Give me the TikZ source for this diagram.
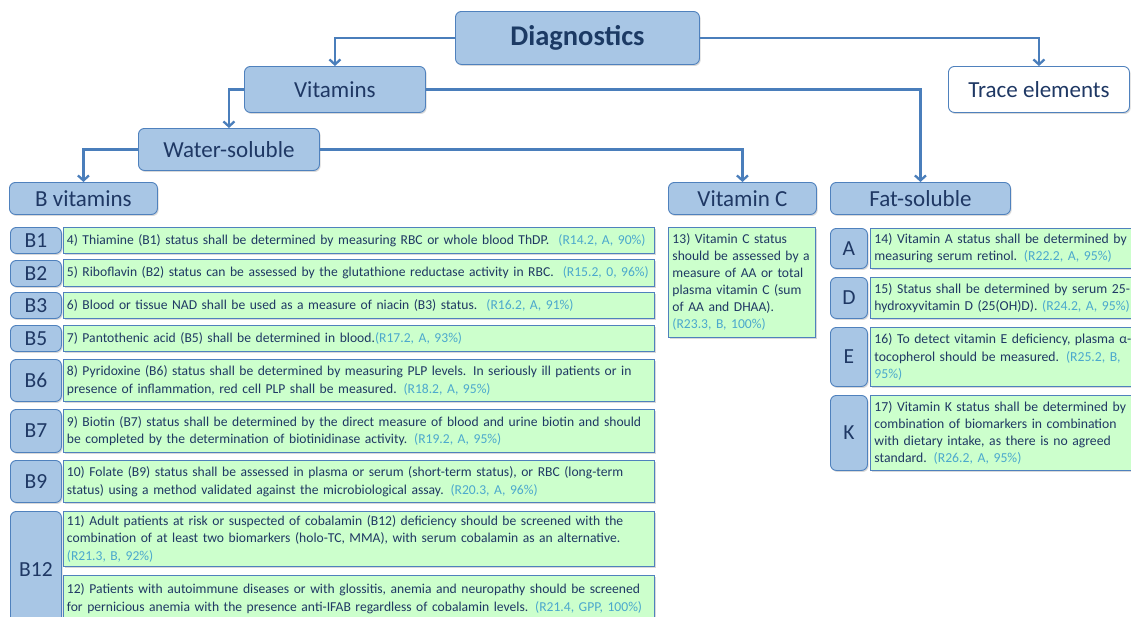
\documentclass[tikz,border=0pt]{standalone}
\usepackage{fontspec}
\setmainfont{Carlito}
\usetikzlibrary{arrows.meta,shadows}
\definecolor{hfill}{RGB}{168,198,229}
\definecolor{bord}{RGB}{79,129,189}
\definecolor{navy}{RGB}{31,56,100}
\definecolor{dnavy}{RGB}{28,58,100}
\definecolor{gfill}{RGB}{204,255,204}
\definecolor{refc}{RGB}{75,168,204}
\definecolor{arrc}{RGB}{74,126,187}
\newcommand\rtag[1]{\textcolor{refc}{#1}}
\tikzset{
  boxshadow/.style={drop shadow={shadow xshift=1.2pt,shadow yshift=-1.5pt,opacity=0.25,fill=black!60}},
  hdr/.style={draw=bord, fill=hfill, rounded corners=6pt, line width=0.9pt, text=navy,
    font=\fontsize{23}{26}\selectfont, inner sep=0pt, anchor=north west, boxshadow},
  lbl/.style={hdr, font=\fontsize{21.5}{24}\selectfont},
  txt/.style={draw=bord, fill=gfill, line width=0.9pt, text=navy,
    font=\fontsize{13.6}{17.5}\selectfont, align=left, anchor=north west,
    inner xsep=3.5pt, inner ysep=0pt, boxshadow},
  rtxt/.style={txt, font=\fontsize{13.6}{17}\selectfont, inner xsep=4pt},
  ftxt/.style={txt, font=\fontsize{13.7}{17.3}\selectfont, inner xsep=4pt},
  conn/.style={draw=arrc, line width=2.3pt, -{Straight Barb[length=5pt,width=11pt]}}
}
\begin{document}
\begin{tikzpicture}[x=1pt,y=-1pt]
\useasboundingbox (0,0) rectangle (1131,616);
\clip (0,0) rectangle (1131,616);
% headers
\node[hdr, minimum width=244, minimum height=53, font=\fontsize{28.5}{32}\selectfont\bfseries, text=dnavy] (diag) at (455,11) {Diagnostics};
\node[hdr, minimum width=181, minimum height=46] (vit) at (244,66) {Vitamins};
\node[hdr, fill=white, minimum width=181, minimum height=46] (trace) at (948,66) {Trace elements};
\node[hdr, minimum width=181, minimum height=42] (ws) at (138,128) {Water-soluble};
\node[hdr, minimum width=148, minimum height=32] (bvit) at (9,182) {B vitamins};
\node[hdr, minimum width=148, minimum height=32] (vitc) at (668,182) {Vitamin C};
\node[hdr, minimum width=180, minimum height=32] (fat) at (830,182) {Fat-soluble};
% connectors
\draw[conn] (diag.west) -| (vit.north);
\draw[conn] (diag.east) -| (trace.north);
\draw[conn] (vit.west) -| (ws.north);
\draw[conn] (vit.east) -| (fat.north);
\draw[conn] (ws.west) -| (bvit.north);
\draw[conn] (ws.east) -| (vitc.north);
% B vitamin labels
\node[lbl, minimum width=51, minimum height=26] (lb1) at (10,227) {B1};
\node[lbl, minimum width=51, minimum height=26] (lb2) at (10,260) {B2};
\node[lbl, minimum width=51, minimum height=26] (lb3) at (10,292) {B3};
\node[lbl, minimum width=51, minimum height=26] (lb5) at (10,325) {B5};
\node[lbl, minimum width=51, minimum height=42] (lb6) at (10,359) {B6};
\node[lbl, minimum width=51, minimum height=43] (lb7) at (10,409) {B7};
\node[lbl, minimum width=51, minimum height=42] (lb9) at (10,460) {B9};
\node[lbl, minimum width=51, minimum height=116] (lb12) at (10,511) {B12};
% B vitamin texts
\node[txt, text width=584, minimum height=26] (t4) at (63,227) {4) Thiamine (B1) status shall be determined by measuring RBC or whole blood ThDP.\ \ \rtag{(R14.2, A, 90\%)}};
\node[txt, text width=584, minimum height=27] (t5) at (63,259) {5) Riboflavin (B2) status can be assessed by the glutathione reductase activity in RBC.\ \ \rtag{(R15.2, 0, 96\%)}};
\node[txt, text width=584, minimum height=26] (t6) at (63,292) {6) Blood or tissue NAD shall be used as a measure of niacin (B3) status.\ \ \rtag{(R16.2, A, 91\%)}};
\node[txt, text width=584, minimum height=26] (t7) at (63,325) {7) Pantothenic acid (B5) shall be determined in blood.\rtag{(R17.2, A, 93\%)}};
\node[txt, text width=584, minimum height=42] (t8) at (63,359) {8) Pyridoxine (B6) status shall be determined by measuring PLP levels. In seriously ill patients or in\\presence of inflammation, red cell PLP shall be measured. \rtag{(R18.2, A, 95\%)}};
\node[txt, text width=584, minimum height=43] (t9) at (63,409) {9) Biotin (B7) status shall be determined by the direct measure of blood and urine biotin and should\\be completed by the determination of biotinidinase activity. \rtag{(R19.2, A, 95\%)}};
\node[txt, text width=584, minimum height=42] (t10) at (63,460) {10) Folate (B9) status shall be assessed in plasma or serum (short-term status), or RBC (long-term\\status) using a method validated against the microbiological assay. \rtag{(R20.3, A, 96\%)}};
\node[txt, text width=584, minimum height=55] (t11) at (63,511) {11) Adult patients at risk or suspected of cobalamin (B12) deficiency should be screened with the\\combination of at least two biomarkers (holo-TC, MMA), with serum cobalamin as an alternative.\\\rtag{(R21.3, B, 92\%)}};
\node[txt, text width=584, minimum height=46] (t12) at (63,575) {12) Patients with autoimmune diseases or with glossitis, anemia and neuropathy should be screened\\for pernicious anemia with the presence anti-IFAB regardless of cobalamin levels. \rtag{(R21.4, GPP, 100\%)}};
% Vitamin C
\node[rtxt, text width=139, minimum height=110] (t13) at (668,227) {13) Vitamin C status\\should be assessed by a\\measure of AA or total\\plasma vitamin C (sum\\of AA and DHAA).\\\rtag{(R23.3, B, 100\%)}};
% Fat-soluble labels
\node[lbl, minimum width=37, minimum height=40] (la) at (830,228) {A};
\node[lbl, minimum width=37, minimum height=41] (ld) at (830,277) {D};
\node[lbl, minimum width=37, minimum height=59] (le) at (830,327) {E};
\node[lbl, minimum width=37, minimum height=75] (lk) at (830,395) {K};
\node[ftxt, text width=292, minimum height=40] (t14) at (870,228) {14) Vitamin A status shall be determined by\\measuring serum retinol. \rtag{(R22.2, A, 95\%)}};
\node[ftxt, text width=292, minimum height=41] (t15) at (870,277) {15) Status shall be determined by serum 25-\\hydroxyvitamin D (25(OH)D). \rtag{(R24.2, A, 95\%)}};
\node[ftxt, text width=292, minimum height=59] (t16) at (870,327) {16) To detect vitamin E deficiency, plasma α-\\tocopherol should be measured. \rtag{(R25.2, B,}\\\rtag{95\%)}};
\node[ftxt, text width=292, minimum height=75] (t17) at (870,395) {17) Vitamin K status shall be determined by a\\combination of biomarkers in combination\\with dietary intake, as there is no agreed\\standard. \rtag{(R26.2, A, 95\%)}};
\end{tikzpicture}
\end{document}
